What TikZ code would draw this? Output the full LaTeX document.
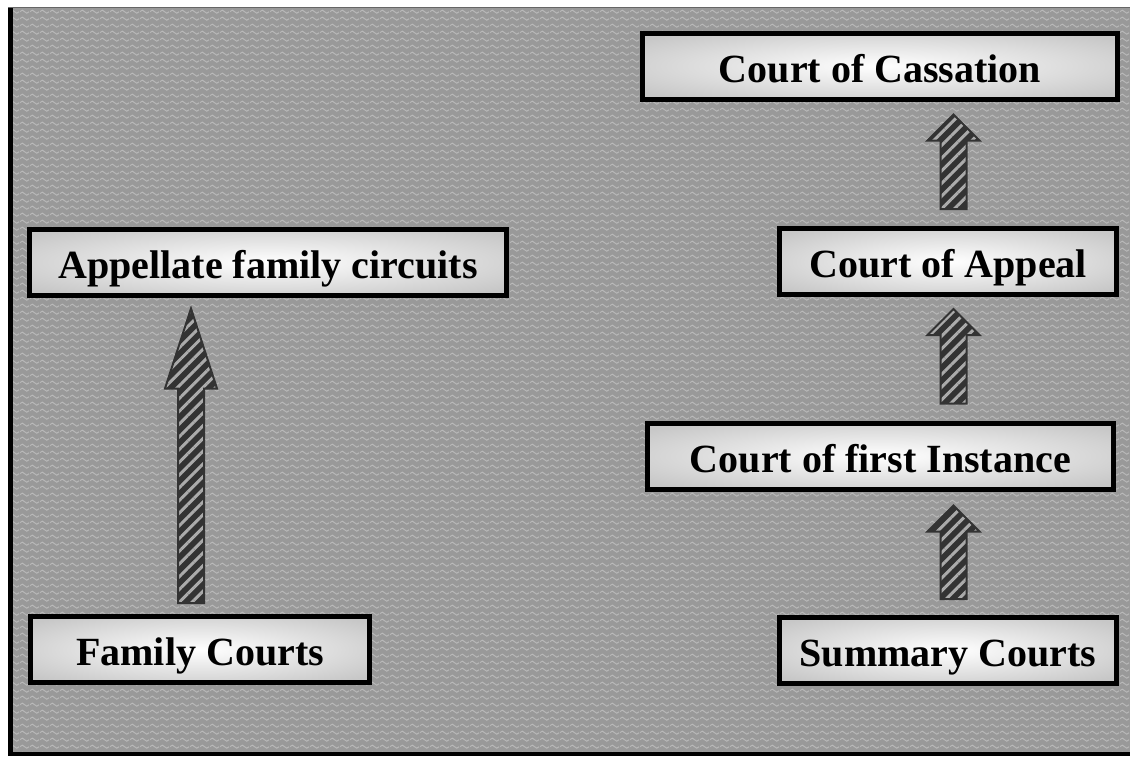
\documentclass[tikz,border=0pt]{standalone}
\usepackage{fontspec}
\setmainfont{Liberation Serif}
\usetikzlibrary{calc,patterns.meta}

\pgfdeclarepattern{
  name=waves,
  type=uncolored,
  bottom left={\pgfpoint{0pt}{0pt}},
  top right={\pgfpoint{10pt}{7.3pt}},
  tile size={\pgfpoint{10pt}{7.3pt}},
  code={
    \pgfsetlinewidth{1pt}
    \pgfpathmoveto{\pgfpoint{0pt}{3.65pt}}
    \pgfpathcurveto{\pgfpoint{1.667pt}{5.9pt}}{\pgfpoint{3.333pt}{5.9pt}}{\pgfpoint{5pt}{3.65pt}}
    \pgfpathcurveto{\pgfpoint{6.667pt}{1.4pt}}{\pgfpoint{8.333pt}{1.4pt}}{\pgfpoint{10pt}{3.65pt}}
    \pgfusepath{stroke}
  }
}

\pgfdeclareradialshading{boxglow}{\pgfpoint{0bp}{0bp}}{color(0bp)=(white); color(32bp)=(black!22); color(50bp)=(black!22)}

\tikzset{
  court/.style={draw=black, line width=5pt, shading=boxglow, minimum height=66pt,
    inner sep=0pt, outer sep=0pt, font=\fontsize{40}{48}\selectfont\bfseries,
    text height=36pt, text depth=4pt},
  barrow/.style={draw=black!80, line width=2pt, line join=miter,
    preaction={fill=black!80},
    pattern={Lines[angle=45,distance=9pt,line width=3pt]}, pattern color=black!33,
    to path={let \p1=(\tikztostart), \p2=(\tikztotarget) in
      (\x1-13pt,\y1) -- (\x1-13pt,\y2-#1) -- (\x1-26pt,\y2-#1) -- (\x1,\y2)
      -- (\x1+26pt,\y2-#1) -- (\x1+13pt,\y2-#1) -- (\x1+13pt,\y1) -- cycle}},
  barrow/.default=26pt
}

\begin{document}
\begin{tikzpicture}[x=1pt,y=-1pt]
\useasboundingbox (0,0) rectangle (1130,756);
% background
\fill[black!40] (8,7) rectangle (1130,756);
\fill[pattern=waves, pattern color=black!27] (8,7) rectangle (1130,756);
\fill[black!60] (8,6.5) rectangle (1130,8);
\fill[black] (8,8) rectangle (13,756);
\fill[black] (8,752) rectangle (1130,756);

% boxes
\node[court, minimum width=475pt] (cass)  at (880,66)    {Court of Cassation};
\node[court, minimum width=337pt] (app)   at (948,261.5) {Court of Appeal};
\node[court, minimum width=466pt] (first) at (880.5,456) {Court of first Instance};
\node[court, minimum width=337pt] (sum)   at (948,650)   {Summary Courts};
\node[court, minimum width=477pt] (afc)   at (268,262)   {Appellate family circuits};
\node[court, minimum width=339pt] (fam)   at (200,649.5) {Family Courts};

% block arrows
\draw[barrow=80pt] ($(fam.north)+(-9,-13.5)$) to ($(afc.south)+(0,13.5)$);
\draw[barrow] ($(sum.north)+(5.5,-18)$) to ($(first.south)+(0,16.5)$);
\draw[barrow] ($(first.north -| sum.north)+(5.5,-19.5)$) to ($(app.south)+(0,14.5)$);
\draw[barrow] ($(app.north)+(5.5,-19.5)$) to ($(cass.south)+(0,15.5)$);
\end{tikzpicture}
\end{document}
